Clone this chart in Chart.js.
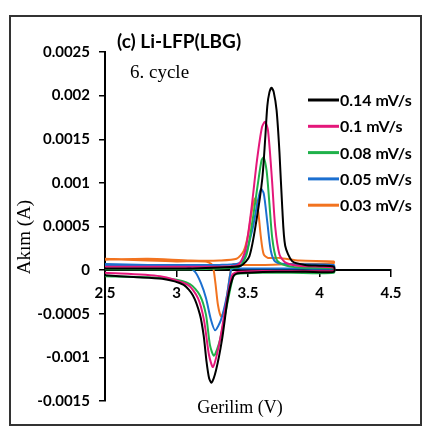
<!DOCTYPE html>
<html>
<head>
<meta charset="utf-8">
<script src="https://cdn.jsdelivr.net/npm/chart.js@4"></script>
<style>
  html, body { margin: 0; padding: 0; background: #fff; }
  #wrap { width: 425px; height: 429px; }
</style>
</head>
<body>
<div id="wrap"><canvas id="cvChart" width="425" height="429"></canvas></div>
<script>
// scan rates (legend)
const rates = ['0.14 mV/s', '0.1 mV/s', '0.08 mV/s', '0.05 mV/s', '0.03 mV/s'];
const colors = ['#000000', '#e4177a', '#1fb14a', '#1b6fd0', '#f2731f'];

// each curve: anodic sweep up to 4.1 V, then cathodic sweep back to 2.5 V
const volt014 = [2.5, 2.8, 3.1, 3.3, 3.45, 3.51, 3.56, 3.6, 3.62, 3.635, 3.65, 3.665, 3.68, 3.7, 3.72, 3.74, 3.76, 3.81, 3.9, 4.0, 4.1,
  4.1, 3.9, 3.7, 3.5, 3.42, 3.395, 3.36, 3.318, 3.276, 3.245, 3.228, 3.21, 3.19, 3.164, 3.115, 3.05, 2.9, 2.7, 2.5];
const amp014 = [0.00002, 0.00002, 0.00002, 0.00003, 0.00005, 0.00016, 0.00058, 0.00105, 0.0015, 0.00188, 0.00204, 0.00209, 0.00204, 0.00183, 0.00135, 0.0007, 0.00028, 0.0001, 0.00006, 0.00005, 0.00004,
  -0.00002, -0.00002, -0.00002, -0.00003, -0.00004, -0.00008, -0.00031, -0.0008, -0.00115, -0.00129, -0.00124, -0.00105, -0.00075, -0.00051, -0.00029, -0.00017, -0.0001, -0.00008, -0.00006];

const volt010 = [2.5, 2.8, 3.1, 3.3, 3.43, 3.48, 3.52, 3.563, 3.598, 3.62, 3.64, 3.668, 3.69, 3.72, 3.76, 3.85, 4.1,
  4.1, 3.8, 3.6, 3.45, 3.41, 3.388, 3.346, 3.297, 3.255, 3.227, 3.192, 3.15, 3.08, 2.885, 2.5];
const amp010 = [0.00004, 0.00004, 0.00004, 0.00004, 0.00006, 0.00022, 0.00065, 0.00126, 0.00164, 0.0017, 0.0016, 0.00103, 0.0005, 0.00018, 0.00009, 0.00005, 0.00003,
  -0.00001, -0.00001, -0.00001, -0.00002, -0.00003, -0.00006, -0.0004, -0.00086, -0.00111, -0.00097, -0.00057, -0.00032, -0.00017, -0.00007, -0.00003];

const volt008 = [2.5, 2.8, 3.1, 3.3, 3.44, 3.49, 3.53, 3.57, 3.595, 3.61, 3.63, 3.648, 3.67, 3.7, 3.75, 3.86, 4.1,
  4.1, 3.8, 3.6, 3.45, 3.41, 3.395, 3.353, 3.304, 3.262, 3.234, 3.206, 3.164, 3.094, 2.955, 2.745, 2.5];
const amp008 = [0.00001, 0.00001, 0.00001, 0.00002, 0.00004, 0.00018, 0.00055, 0.001, 0.00126, 0.00129, 0.00114, 0.0008, 0.00036, 0.00012, 0.00006, 0.00003, 0.00002,
  -0.00003, -0.00003, -0.00003, -0.00004, -0.00005, -0.00008, -0.0004, -0.0008, -0.00098, -0.00086, -0.00051, -0.00029, -0.00016, -0.0001, -0.00008, -0.00007];

const volt005 = [2.5, 2.8, 3.1, 3.3, 3.42, 3.47, 3.53, 3.565, 3.59, 3.61, 3.635, 3.66, 3.69, 3.76, 4.1,
  4.1, 3.8, 3.6, 3.45, 3.4, 3.381, 3.353, 3.311, 3.27, 3.241, 3.206, 3.171, 3.13, 3.06, 2.8, 2.5];
const amp005 = [0.00006, 0.00006, 0.00006, 0.00006, 0.00007, 0.00012, 0.00046, 0.00076, 0.00093, 0.00088, 0.00055, 0.00022, 0.0001, 0.00007, 0.00006,
  0.00002, 0.00002, 0.00002, 0.00002, 0.00002, 0, -0.00029, -0.00057, -0.00069, -0.00057, -0.00032, -0.00015, -0.00002, 0.00005, 0.00006, 0.00007];

const volt003 = [2.5, 2.8, 3.1, 3.3, 3.42, 3.47, 3.5, 3.525, 3.548, 3.568, 3.59, 3.61, 3.64, 3.72, 3.86, 4.1,
  4.1, 3.8, 3.6, 3.45, 3.4, 3.385, 3.36, 3.335, 3.312, 3.29, 3.27, 3.25, 3.2, 3.0, 2.8, 2.5];
const amp003 = [0.00012, 0.00013, 0.00011, 0.00011, 0.00013, 0.00022, 0.0004, 0.00066, 0.00082, 0.00072, 0.00038, 0.00018, 0.00014, 0.00014, 0.00011, 0.0001,
  0.00008, 0.00007, 0.00006, 0.00006, 0.00007, 0.00004, -0.00022, -0.00046, -0.00053, -0.0004, -0.00012, 0.00006, 0.0001, 0.0001, 0.00011, 0.00013];

const voltSets = [volt014, volt010, volt008, volt005, volt003];
const ampSets = [amp014, amp010, amp008, amp005, amp003];

const xTicks = [2.5, 3, 3.5, 4, 4.5];
const yTicks = [-0.0015, -0.001, -0.0005, 0, 0.0005, 0.001, 0.0015, 0.002, 0.0025];

const tickFont = { family: 'Lato', weight: 'bold', size: 15 };

const datasets = rates.map((r, k) => ({
  label: r,
  data: voltSets[k].map((v, j) => ({ x: v, y: ampSets[k][j] })),
  borderColor: colors[k],
  backgroundColor: colors[k],
  borderWidth: 2,
  pointRadius: 0,
  showLine: true,
  tension: 0.25
}));

// frame, titles and legend drawn on top
const decor = {
  id: 'decor',
  afterDraw(chart) {
    const c = chart.ctx;
    c.save();
    c.strokeStyle = '#333';
    c.lineWidth = 2;
    c.strokeRect(10, 16, 411, 409);

    c.fillStyle = '#000';
    c.textBaseline = 'middle';
    c.textAlign = 'left';
    c.font = 'bold 19px Lato';
    c.fillText('(c) Li-LFP(LBG)', 117, 42);
    c.font = '19px "Liberation Serif"';
    c.fillText('6. cycle', 130, 73);

    c.font = '18px "Liberation Serif"';
    c.textAlign = 'center';
    c.fillText('Gerilim (V)', 240, 408);
    c.translate(25, 237);
    c.rotate(-Math.PI / 2);
    c.font = '19px "Liberation Serif"';
    c.fillText('Akım (A)', 0, 0);
    c.restore();

    c.save();
    c.textBaseline = 'middle';
    c.textAlign = 'left';
    c.font = 'bold 16px Lato';
    chart.data.datasets.forEach((ds, k) => {
      const y = 100 + k * 26.3;
      c.strokeStyle = ds.borderColor;
      c.lineWidth = 3;
      c.beginPath();
      c.moveTo(308, y);
      c.lineTo(339, y);
      c.stroke();
      c.fillStyle = '#000';
      c.fillText(ds.label, 340, y + 1);
    });
    c.restore();
  }
};

new Chart(document.getElementById('cvChart'), {
  type: 'scatter',
  data: { datasets: datasets },
  options: {
    responsive: false,
    animation: false,
    layout: { padding: { left: 0, right: 34, top: 52, bottom: 28 } },
    plugins: { legend: { display: false }, tooltip: { enabled: false } },
    scales: {
      x: {
        type: 'linear',
        position: { y: 0 },
        min: 2.5,
        max: 4.5,
        afterBuildTicks: (s) => { s.ticks = xTicks.map(v => ({ value: v })); },
        ticks: { color: '#000', font: tickFont, padding: 8, maxRotation: 0,
          callback: (v) => String(v) },
        grid: { display: true, drawOnChartArea: false, drawTicks: true, tickLength: 6, color: '#000', lineWidth: 1.5 },
        border: { display: true, color: '#000', width: 2 }
      },
      y: {
        type: 'linear',
        position: 'left',
        min: -0.0015,
        max: 0.0025,
        afterFit: (s) => { s.width = 105; },
        afterBuildTicks: (s) => { s.ticks = yTicks.map(v => ({ value: v })); },
        ticks: { color: '#000', font: tickFont, padding: 9,
          callback: (v) => String(+v.toFixed(4)) },
        grid: { display: true, drawOnChartArea: false, drawTicks: true, tickLength: 6, color: '#000', lineWidth: 1.5 },
        border: { display: true, color: '#000', width: 2 }
      }
    }
  },
  plugins: [decor]
});
</script>
</body>
</html>
